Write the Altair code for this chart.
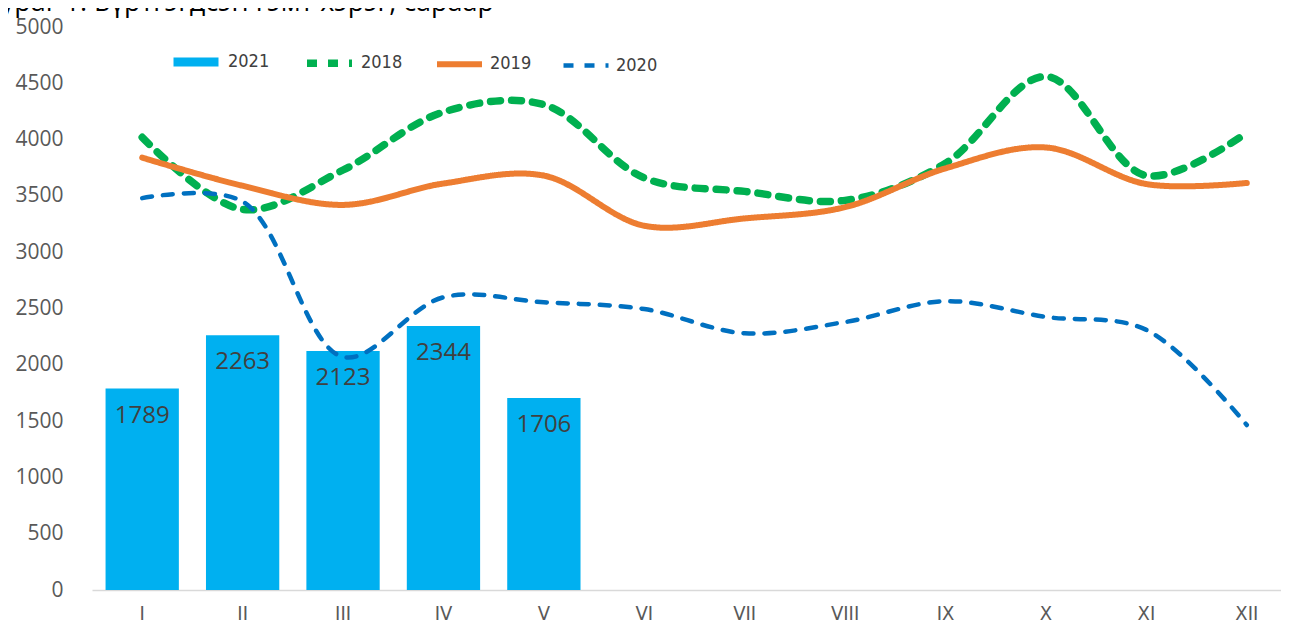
import altair as alt
import pandas as pd

# ---- data ----
months = ["I", "II", "III", "IV", "V", "VI", "VII", "VIII", "IX", "X", "XI", "XII"]
bar_months = ["I", "II", "III", "IV", "V"]
values_2021 = [1789, 2263, 2123, 2344, 1706]
values_2018 = [4020, 3380, 3730, 4245, 4310, 3660, 3540, 3460, 3790, 4560, 3680, 4060]
values_2019 = [3840, 3590, 3420, 3610, 3680, 3235, 3300, 3400, 3745, 3930, 3605, 3615]
values_2020 = [3480, 3450, 2070, 2600, 2555, 2495, 2280, 2380, 2565, 2425, 2310, 1465]
series_order = ["2021", "2018", "2019", "2020"]
series_colors = ["#00B0F0", "#00B050", "#ED7D31", "#0070C0"]
y_ticks = list(range(0, 5001, 500))
title_text = "Зураг 1. Бүртгэгдсэн гэмт хэрэг, сараар"

bars = pd.DataFrame({"month": bar_months, "value": values_2021, "series": "2021"})
lines = pd.concat([
    pd.DataFrame({"month": months, "value": values_2018, "series": "2018"}),
    pd.DataFrame({"month": months, "value": values_2019, "series": "2019"}),
    pd.DataFrame({"month": months, "value": values_2020, "series": "2020"}),
])

label_font = "Open Sans"
narrow_font = "Liberation Sans Narrow, DejaVu Sans Condensed, sans-serif"

leg = alt.Legend(
    title=None, orient="none", legendX=77, legendY=8, direction="horizontal",
    symbolType="stroke", symbolSize=2025, labelFont=narrow_font, labelFontSize=18,
    labelColor="#404040", labelOffset=5, columnPadding=22, padding=0,
)

x_enc = alt.X(
    "month:N", sort=months,
    scale=alt.Scale(domain=months, range=[0, 1205], paddingInner=0.27, paddingOuter=0.135),
    axis=alt.Axis(title=None, labelAngle=0, labelFont=narrow_font, labelFontSize=20,
                  labelColor="#595959", labelPadding=13, ticks=False, tickSize=0,
                  domainColor="#D9D9D9", domainWidth=1.5, grid=False),
)
y_enc = alt.Y(
    "value:Q",
    scale=alt.Scale(domain=[0, 5000], nice=False),
    axis=alt.Axis(title=None, values=y_ticks, format="d", grid=False, domain=False, ticks=False,
                  tickSize=0, labelFont=label_font, labelFontSize=21,
                  labelColor="#595959", labelPadding=29),
)
color_enc = alt.Color("series:N", scale=alt.Scale(domain=series_order, range=series_colors), legend=leg)

bar_layer = alt.Chart(bars).mark_bar().encode(x=x_enc, y=y_enc, color=color_enc)

line_layer = alt.Chart(lines).mark_line(interpolate="catmull-rom", strokeCap="round").encode(
    x=x_enc, y=y_enc, color=color_enc,
    strokeDash=alt.StrokeDash("series:N", scale=alt.Scale(domain=series_order, range=[[1, 0], [10, 11], [1, 0], [10, 11]]), legend=leg),
    strokeWidth=alt.StrokeWidth("series:N", scale=alt.Scale(domain=series_order, range=[9, 4.5, 4.5, 4.5]), legend=leg),
)

text_layer = alt.Chart(bars).mark_text(baseline="middle", dy=27, font=label_font, fontSize=24, color="#404040").encode(
    x=x_enc, y=y_enc, text=alt.Text("value:Q")
)

chart = alt.layer(bar_layer, line_layer, text_layer).properties(
    width=1189, height=563,
    title=alt.TitleParams(title_text, anchor="start", frame="group", baseline="alphabetic",
                          offset=-22, dx=-107, font=label_font, fontSize=27, fontWeight="normal",
                          color="#000000"),
    autosize=alt.AutoSizeParams(type="none"),
    padding={"left": 84, "top": 19, "right": 0, "bottom": 35},
).configure_view(stroke=None)

chart.save("out.html", embed_options={"renderer": "svg", "actions": False})
